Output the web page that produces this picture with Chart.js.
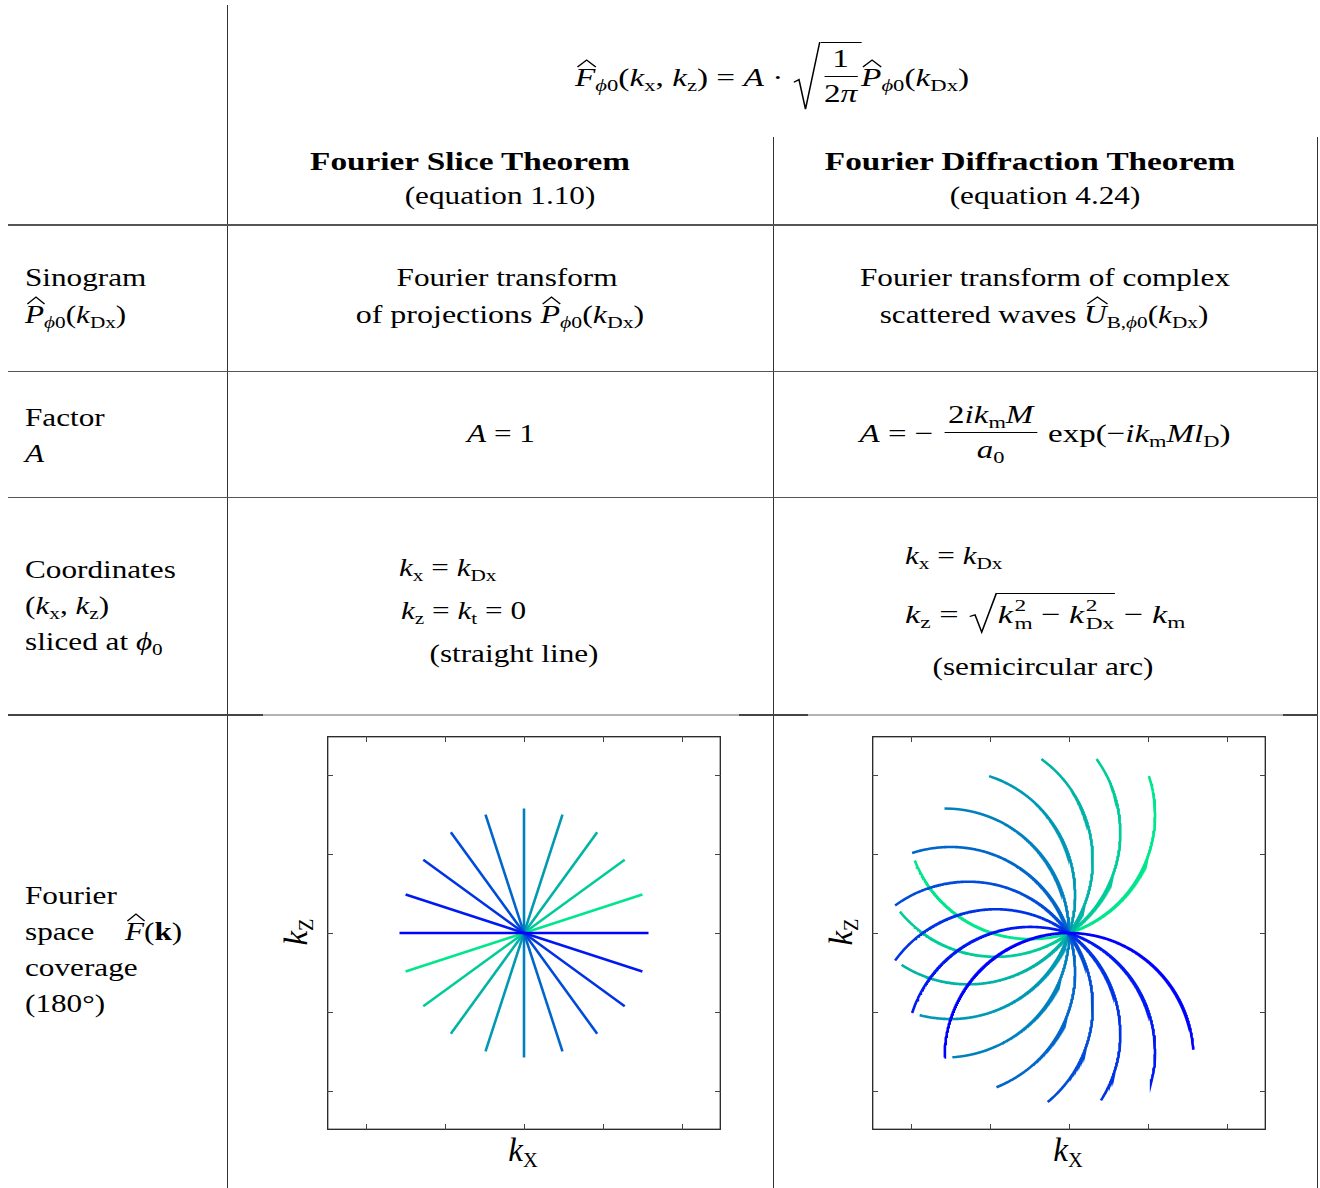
<!DOCTYPE html>
<html>
<head>
<meta charset="utf-8">
<script src="https://cdn.jsdelivr.net/npm/chart.js@4.4.1/dist/chart.umd.min.js"></script>
<style>
    body { margin: 0; width: 1320px; height: 1188px; background: #fff; position: relative; overflow: hidden;
           font-family: 'Liberation Serif', serif; color: #000; }
    .rule { position: absolute; background: #333; }
    .t { position: absolute; white-space: nowrap; font-size: 26px; line-height: 26px; }
    .c { transform: translateX(-50%) scaleX(var(--sx, 1.2)); }
    .l { transform-origin: 0 0; transform: scaleX(var(--sx, 1.2)); }
    .b { font-weight: bold; }
    .c.b { --sx: 1.28; }
    .bl { display: inline-block; width: 0; height: 0; vertical-align: baseline; }
    i { font-style: italic; }
    .sb { font-size: 0.68em; vertical-align: -0.28em; line-height: 0; font-style: normal; }
    .ss { display: inline-flex; flex-direction: column; font-size: 0.68em; line-height: 1.02; vertical-align: 0.7em; margin-left: 1px; }
    .hat { position: relative; display: inline-block; }
    .hat svg { position: absolute; left: 12%; top: -0.2em; width: 90%; height: 0.27em; overflow: visible; }
    .hat polyline { fill: none; stroke: #000; stroke-width: 1.1; vector-effect: non-scaling-stroke; }
    .fr { display: inline-flex; flex-direction: column; text-align: center; vertical-align: 0.74em; margin: 0 2px; }
    .fr > span { line-height: 1.1; }
    .fr > span:first-child { border-bottom: 1.2px solid #000; padding: 0 3px 3px; }
    .fr > span:last-child { padding-top: 3px; }
    .sq { position: relative; display: inline-block; padding-left: 0.78em; margin-left: 2px; }
    .sq svg { position: absolute; left: 0; top: 0; width: 0.78em; height: 100%; overflow: visible; }
    .sq polyline { fill: none; stroke: #000; stroke-width: 1.2; vector-effect: non-scaling-stroke; stroke-linejoin: miter; }
    .rd { display: inline-block; border-top: 1.2px solid #000; padding: 2px 1px 0 1px; }
    .chart { position: absolute; width: 394px; height: 394px; }
    .ax { position: absolute; white-space: nowrap; font-size: 33px; line-height: 33px; }
    .ax .sb { font-size: 0.62em; vertical-align: -0.3em; }
</style>
</head>
<body>

<!-- table rules -->
<div class="rule" style="left:227px;top:5px;width:1.2px;height:1183px"></div>
<div class="rule" style="left:772.5px;top:137px;width:1.2px;height:1051px"></div>
<div class="rule" style="left:1317px;top:137px;width:1.2px;height:1051px"></div>
<div class="rule" style="left:8px;top:224px;width:1310px;height:1.8px;background:#555"></div>
<div class="rule" style="left:8px;top:370.5px;width:1310px;height:1.6px;background:#555"></div>
<div class="rule" style="left:8px;top:496.5px;width:1310px;height:1.6px;background:#555"></div>
<div class="rule" style="left:8px;top:714px;width:1310px;height:1.6px;background:#444"></div>
<div class="rule" style="left:263px;top:714px;width:476px;height:1.6px;background:#b4b4b4"></div>
<div class="rule" style="left:808px;top:714px;width:475px;height:1.6px;background:#b4b4b4"></div>

<!-- header formula -->
<div class="t c" style="--sx:1.28" data-x="772" data-b="86"><span class="hat"><i>F</i><svg viewBox="0 0 100 30" preserveAspectRatio="none"><polyline points="0,30 50,0 100,30"/></svg></span><span class="sb"><i>ϕ</i>0</span>(<i>k</i><span class="sb">x</span>, <i>k</i><span class="sb">z</span>) = <i>A</i> · <span class="sq"><svg viewBox="0 0 20 100" preserveAspectRatio="none"><polyline points="0,60 4,56 9,100 20,0"/></svg><span class="rd"><span class="fr"><span>1</span><span>2<i>π</i></span></span></span></span><span class="hat"><i>P</i><svg viewBox="0 0 100 30" preserveAspectRatio="none"><polyline points="0,30 50,0 100,30"/></svg></span><span class="sb"><i>ϕ</i>0</span>(<i>k</i><span class="sb">Dx</span>)</div>

<!-- column heads -->
<div class="t c b" data-x="470" data-b="170">Fourier Slice Theorem</div>
<div class="t c" data-x="500" data-b="204">(equation 1.10)</div>
<div class="t c b" data-x="1030" data-b="170">Fourier Diffraction Theorem</div>
<div class="t c" data-x="1045" data-b="204">(equation 4.24)</div>

<!-- row: sinogram -->
<div class="t l" data-x="25" data-b="286">Sinogram</div>
<div class="t l" data-x="25" data-b="323"><span class="hat"><i>P</i><svg viewBox="0 0 100 30" preserveAspectRatio="none"><polyline points="0,30 50,0 100,30"/></svg></span><span class="sb"><i>ϕ</i>0</span>(<i>k</i><span class="sb">Dx</span>)</div>
<div class="t c" data-x="507" data-b="286">Fourier transform</div>
<div class="t c" style="--sx:1.23" data-x="500" data-b="323">of projections <span class="hat"><i>P</i><svg viewBox="0 0 100 30" preserveAspectRatio="none"><polyline points="0,30 50,0 100,30"/></svg></span><span class="sb"><i>ϕ</i>0</span>(<i>k</i><span class="sb">Dx</span>)</div>
<div class="t c" data-x="1045" data-b="286">Fourier transform of complex</div>
<div class="t c" data-x="1044" data-b="323">scattered waves <span class="hat"><i>U</i><svg viewBox="0 0 100 30" preserveAspectRatio="none"><polyline points="0,30 50,0 100,30"/></svg></span><span class="sb">B,<i>ϕ</i>0</span>(<i>k</i><span class="sb">Dx</span>)</div>

<!-- row: factor -->
<div class="t l" data-x="25" data-b="426">Factor</div>
<div class="t l" data-x="25" data-b="462"><i>A</i></div>
<div class="t c" data-x="501" data-b="442"><i>A</i> = 1</div>
<div class="t c" style="--sx:1.27" data-x="1045" data-b="442"><i>A</i> = − <span class="fr"><span>2<i>ik</i><span class="sb">m</span><i>M</i></span><span><i>a</i><span class="sb">0</span></span></span> exp(−<i>ik</i><span class="sb">m</span><i>Ml</i><span class="sb">D</span>)</div>

<!-- row: coordinates -->
<div class="t l" data-x="25" data-b="578">Coordinates</div>
<div class="t l" data-x="25" data-b="614">(<i>k</i><span class="sb">x</span>, <i>k</i><span class="sb">z</span>)</div>
<div class="t l" data-x="25" data-b="650">sliced at <i>ϕ</i><span class="sb">0</span></div>
<div class="t l" data-x="399" data-b="576"><i>k</i><span class="sb">x</span> = <i>k</i><span class="sb">Dx</span></div>
<div class="t l" data-x="401" data-b="619"><i>k</i><span class="sb">z</span> = <i>k</i><span class="sb">t</span> = 0</div>
<div class="t c" data-x="514" data-b="662">(straight line)</div>
<div class="t l" data-x="905" data-b="564"><i>k</i><span class="sb">x</span> = <i>k</i><span class="sb">Dx</span></div>
<div class="t l" style="--sx:1.32" data-x="905" data-b="623"><i>k</i><span class="sb">z</span> = <span class="sq"><svg viewBox="0 0 20 100" preserveAspectRatio="none"><polyline points="0,60 4,56 9,100 20,0"/></svg><span class="rd"><i>k</i><span class="ss"><span>2</span><span>m</span></span> − <i>k</i><span class="ss"><span>2</span><span>Dx</span></span></span></span> − <i>k</i><span class="sb">m</span></div>
<div class="t c" data-x="1043" data-b="675">(semicircular arc)</div>

<!-- row: coverage -->
<div class="t l" data-x="25" data-b="904">Fourier</div>
<div class="t l" data-x="25" data-b="940">space</div>
<div class="t l" data-x="125" data-b="940"><span class="hat"><i>F</i><svg viewBox="0 0 100 30" preserveAspectRatio="none"><polyline points="0,30 50,0 100,30"/></svg></span>(<b>k</b>)</div>
<div class="t l" data-x="25" data-b="976">coverage</div>
<div class="t l" data-x="25" data-b="1012">(180°)</div>

<!-- plots -->
<div class="chart" style="left:327px;top:736px"><canvas id="sliceChart" width="394" height="394"></canvas></div>
<div class="chart" style="left:872px;top:736px"><canvas id="diffChart" width="394" height="394"></canvas></div>

<div class="ax" style="left:523px;top:1150px;transform:translate(-50%,-50%)"><i>k</i><span class="sb">X</span></div>
<div class="ax" style="left:296px;top:932px;transform:translate(-50%,-50%) rotate(-90deg)"><i>k</i><span class="sb">Z</span></div>
<div class="ax" style="left:1068px;top:1150px;transform:translate(-50%,-50%)"><i>k</i><span class="sb">X</span></div>
<div class="ax" style="left:841px;top:932px;transform:translate(-50%,-50%) rotate(-90deg)"><i>k</i><span class="sb">Z</span></div>

<script>
// projection angles phi0 (degrees), 180 deg coverage in 10 steps
const phiDeg = [0, 18, 36, 54, 72, 90, 108, 126, 144, 162];
// medium wavenumber k_m, in plot units
const km = 1.58;
const axisMin = -2.5;
const axisMax = 2.5;
const tickValues = [-2, -1, 0, 1, 2];
// kDx sampling along each arc (fraction of k_m); last sample stops just short of +k_m
const arcSteps = 1000;

// winter colormap, blue -> green
const palette = ['#0000ff', '#0019f2', '#0033e6', '#004cd9', '#0066cc',
                 '#0080bf', '#0099b3', '#00b3a6', '#00cc99', '#00e68c'];

// put every text line on its baseline
document.querySelectorAll('.t').forEach(el => {
    const m = document.createElement('span');
    m.className = 'bl';
    el.prepend(m);
    el.style.left = el.dataset.x + 'px';
    el.style.top = '0px';
    const off = m.getBoundingClientRect().top - el.getBoundingClientRect().top;
    el.style.top = (el.dataset.b - off) + 'px';
});

// rotate a detector-frame point (kDx, kt) by phi0, clockwise
function rotate(kDx, kt, phi) {
    const a = phi * Math.PI / 180;
    return { x: kDx * Math.cos(a) + kt * Math.sin(a), y: -kDx * Math.sin(a) + kt * Math.cos(a) };
}

const sliceSets = phiDeg.map((phi, i) => ({
    data: [-km, km].map(k => rotate(k, 0, phi)),
    borderColor: palette[i]
}));

const diffSets = phiDeg.map((phi, i) => {
    const pts = [];
    for (let s = 0; s < arcSteps; s++) {
        const kDx = km * (-1 + 2 * s / arcSteps);
        const kz = Math.sqrt(Math.max(km * km - kDx * kDx, 0)) - km;
        pts.push(rotate(kDx, kz, phi));
    }
    return { data: pts, borderColor: palette[i] };
});

const framePlugin = {
    id: 'frame',
    afterDraw(chart) {
        const { ctx, chartArea: a, scales: { x, y } } = chart;
        ctx.save();
        ctx.strokeStyle = '#222';
        ctx.lineWidth = 1.3;
        ctx.strokeRect(a.left + 0.7, a.top + 0.7, a.right - a.left - 1.4, a.bottom - a.top - 1.4);
        ctx.lineWidth = 1;
        ctx.strokeStyle = '#444';
        ctx.beginPath();
        tickValues.forEach(v => {
            const px = Math.round(x.getPixelForValue(v)) + 0.5;
            const py = Math.round(y.getPixelForValue(v)) + 0.5;
            ctx.moveTo(px, a.top); ctx.lineTo(px, a.top + 6);
            ctx.moveTo(px, a.bottom); ctx.lineTo(px, a.bottom - 6);
            ctx.moveTo(a.left, py); ctx.lineTo(a.left + 6, py);
            ctx.moveTo(a.right, py); ctx.lineTo(a.right - 6, py);
        });
        ctx.stroke();
        ctx.restore();
    }
};

function makeChart(id, sets) {
    return new Chart(document.getElementById(id), {
        type: 'scatter',
        data: { datasets: sets.map(s => ({ ...s, showLine: true, borderWidth: 2.6, pointRadius: 0, fill: false, tension: 0 })) },
        options: {
            responsive: false,
            animation: false,
            events: [],
            layout: { padding: 0 },
            plugins: { legend: { display: false }, tooltip: { enabled: false } },
            scales: {
                x: { type: 'linear', min: axisMin, max: axisMax, display: false },
                y: { type: 'linear', min: axisMin, max: axisMax, display: false }
            }
        },
        plugins: [framePlugin]
    });
}

makeChart('sliceChart', sliceSets);
makeChart('diffChart', diffSets);
</script>
</body>
</html>
